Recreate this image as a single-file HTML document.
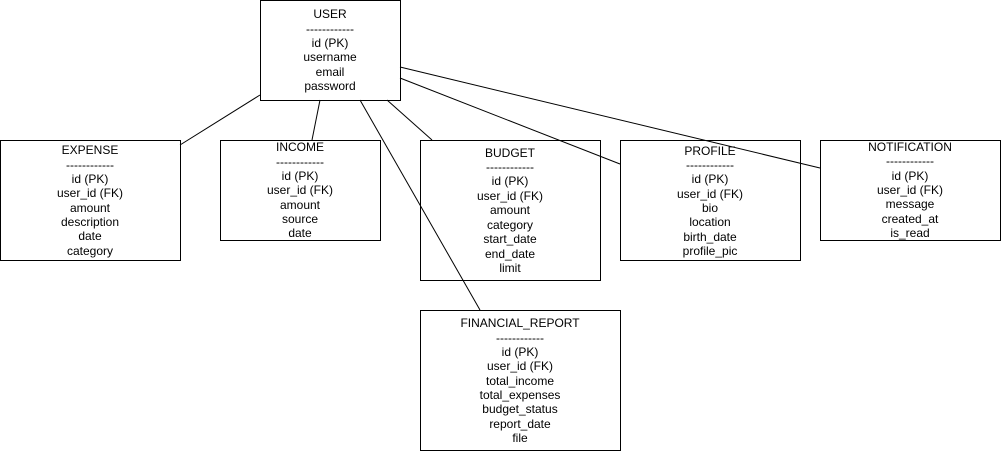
<!DOCTYPE html>
<html><head><meta charset="utf-8"><style>
html,body{margin:0;padding:0;background:#fff;width:1001px;height:451px;overflow:hidden}
text{font-family:"Liberation Sans",Arial,sans-serif;font-size:12px;fill:#000;text-anchor:middle}
rect{fill:#fff;stroke:#000;stroke-width:1}
line{stroke:#000;stroke-width:1}
</style></head><body>
<svg width="1001" height="451" viewBox="0 0 1001 451" xmlns="http://www.w3.org/2000/svg">
<rect x="260.5" y="0.5" width="140" height="100"/>
<rect x="0.5" y="140.5" width="180" height="120"/>
<rect x="220.5" y="140.5" width="160" height="100"/>
<rect x="420.5" y="140.5" width="180" height="140"/>
<rect x="620.5" y="140.5" width="180" height="120"/>
<rect x="820.5" y="140.5" width="180" height="100"/>
<rect x="420.5" y="310.5" width="200" height="140"/>
<g>
<line x1="260" y1="95" x2="180" y2="145"/>
<line x1="320" y1="100" x2="312" y2="140"/>
<line x1="360" y1="100" x2="480" y2="310"/>
<line x1="387" y1="100" x2="432" y2="140"/>
<line x1="400" y1="78" x2="620" y2="164"/>
<line x1="400" y1="67" x2="820" y2="168"/>
</g>
<g transform="translate(330,4)">
<text y="14">USER</text><text y="29">------------</text><text y="43">id (PK)</text><text y="57">username</text><text y="72">email</text><text y="86">password</text>
</g>
<g transform="translate(90,154)">
<text y="0">EXPENSE</text><text y="15">------------</text><text y="29">id (PK)</text><text y="43">user_id (FK)</text><text y="58">amount</text><text y="72">description</text><text y="86">date</text><text y="101">category</text>
</g>
<g transform="translate(300,151)">
<text y="0">INCOME</text><text y="15">------------</text><text y="29">id (PK)</text><text y="43">user_id (FK)</text><text y="58">amount</text><text y="72">source</text><text y="86">date</text>
</g>
<g transform="translate(510,157)">
<text y="0">BUDGET</text><text y="14">------------</text><text y="28">id (PK)</text><text y="43">user_id (FK)</text><text y="57">amount</text><text y="72">category</text><text y="86">start_date</text><text y="101">end_date</text><text y="115">limit</text>
</g>
<g transform="translate(710,155)">
<text y="0">PROFILE</text><text y="14">------------</text><text y="28">id (PK)</text><text y="43">user_id (FK)</text><text y="57">bio</text><text y="71">location</text><text y="86">birth_date</text><text y="100">profile_pic</text>
</g>
<g transform="translate(910,151)">
<text y="0">NOTIFICATION</text><text y="14">------------</text><text y="29">id (PK)</text><text y="43">user_id (FK)</text><text y="57">message</text><text y="72">created_at</text><text y="86">is_read</text>
</g>
<g transform="translate(520,327)">
<text y="0">FINANCIAL_REPORT</text><text y="15">------------</text><text y="29">id (PK)</text><text y="43">user_id (FK)</text><text y="58">total_income</text><text y="72">total_expenses</text><text y="86">budget_status</text><text y="101">report_date</text><text y="115">file</text>
</g>
</svg>
</body></html>
